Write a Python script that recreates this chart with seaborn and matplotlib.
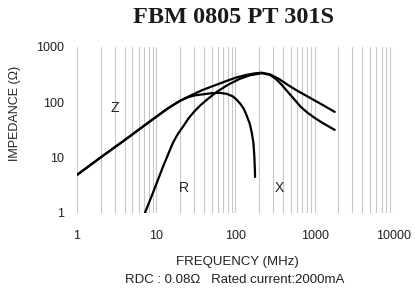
import pandas as pd
import seaborn as sns
import matplotlib.pyplot as plt
from matplotlib.ticker import LogLocator, FixedLocator, NullFormatter

# Curve data (frequency in MHz, impedance in ohm)
z_freq = [1, 1.95, 4.03, 8.33, 14.05, 19.9, 28.2, 38.8, 55.0, 77.9, 104.2, 139.2, 175.6, 215,
          271.6, 352.6, 458, 577.9, 750.3, 946, 1229, 1463, 1793]
z_val = [4.87, 9.88, 20.9, 45.1, 77.6, 106, 136, 167.6, 202.1, 243.8, 282, 313, 333, 342,
         319.5, 265, 206.4, 167.6, 136, 112.8, 91.6, 79.2, 67]

x_freq = [1, 1.95, 4.03, 8.33, 14.05, 19.9, 25.1, 30.76, 38.8, 50.4, 63.6, 77.9, 92.7, 104.2,
          117, 127.6, 139.2, 152, 161, 168.2, 173, 175.6, 177.1]
x_val = [4.87, 9.88, 20.9, 45.1, 77.6, 106, 122.7, 133.3, 139, 146, 148, 141.9, 127.8, 110.5,
         91.6, 76, 56.8, 40.7, 28, 19.2, 11.2, 6.8, 4.48]

r_freq = [7.2, 8.09, 9.08, 10.5, 12.15, 14.05, 16.24, 18.78, 21.71, 25.85, 30.76, 36.6, 44.9,
          58.3, 80.2, 113.6, 152, 215, 271.6, 323, 384.6, 458, 561, 668, 818, 1003, 1229, 1463, 1793]
r_val = [1, 1.52, 2.3, 3.95, 6.79, 11.19, 18.45, 26.8, 35.9, 52.2, 69.9, 89.7, 115.2,
         154.2, 206.4, 265, 306.6, 335, 313, 265, 206.4, 154.2, 110.5, 82.6, 64.3, 52.2, 43.3, 37.4, 31.7]

curve_labels = ["Z", "R", "X"]
label_freq = [3.0, 22.4, 363]
label_val = [79, 2.8, 2.8]

x_ticks = [1, 10, 100, 1000, 10000]
y_ticks = [1, 10, 100, 1000]

df = pd.concat([
    pd.DataFrame({"freq": z_freq, "imp": z_val, "curve": "Z"}),
    pd.DataFrame({"freq": x_freq, "imp": x_val, "curve": "X"}),
    pd.DataFrame({"freq": r_freq, "imp": r_val, "curve": "R"}),
])

sns.set_style("white")
plt.rcParams['font.family'] = ['Liberation Sans', 'DejaVu Sans']

fig = plt.figure(figsize=(4.15, 2.95), dpi=100)
ax = fig.add_axes([0.1855, 0.278, 0.7635, 0.563])

for name in ["Z", "X", "R"]:
    sns.lineplot(data=df[df["curve"] == name], x="freq", y="imp", sort=False,
                 color="black", linewidth=1.6, ax=ax, estimator=None)

ax.set_xscale("log")
ax.set_yscale("log")
ax.set_xlim(1, 10000)
ax.set_ylim(1, 1000)
ax.xaxis.set_major_locator(FixedLocator(x_ticks))
ax.yaxis.set_major_locator(FixedLocator(y_ticks))
ax.set_xticklabels([str(t) for t in x_ticks])
ax.set_yticklabels([str(t) for t in y_ticks])
ax.xaxis.set_minor_locator(LogLocator(base=10, subs=range(2, 10), numticks=20))
ax.xaxis.set_minor_formatter(NullFormatter())
ax.yaxis.set_minor_locator(FixedLocator([]))
ax.grid(True, axis="x", which="both", color="#c8c8c8", linewidth=0.8)
ax.grid(False, axis="y")
ax.tick_params(axis="both", which="both", length=0, labelsize=9, colors="#222222")
ax.tick_params(axis="x", pad=12)
ax.tick_params(axis="y", pad=9)
for s in ax.spines.values():
    s.set_visible(False)
ax.set_xlabel("")
ax.set_ylabel("")

for lab, f, v in zip(curve_labels, label_freq, label_val):
    ax.text(f, v, lab, fontsize=10, ha="center", va="center", color="#222222")

fig.text(0.562, 0.94, "FBM 0805 PT 301S", family=["Liberation Serif"], fontweight="bold",
         fontsize=17.5, ha="center", va="center", color="#1a1a1a")
fig.text(0.571, 0.112, "FREQUENCY (MHz)", fontsize=9.5, ha="center", va="center", color="#222222")
fig.text(0.566, 0.050, "RDC : 0.08\u03a9   Rated current:2000mA", fontsize=9.5,
         ha="center", va="center", color="#222222")
fig.text(0.036, 0.614, "IMPEDANCE (\u03a9)", fontsize=9, rotation=90,
         ha="center", va="center", color="#222222")

fig.savefig("out.png", dpi=100, facecolor="white")
